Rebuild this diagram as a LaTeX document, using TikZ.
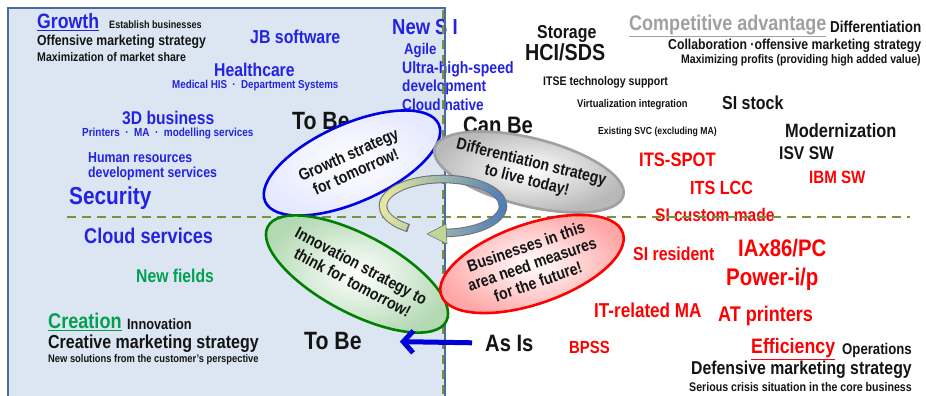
\documentclass[tikz,border=0pt]{standalone}
\usepackage{fontspec}
\setmainfont{Liberation Sans}[FakeStretch=0.85]
\usetikzlibrary{shapes.geometric,arrows.meta}
\definecolor{cblue}{RGB}{35,35,225}
\definecolor{cred}{RGB}{255,0,0}
\definecolor{cgreen}{RGB}{0,160,80}
\definecolor{cgray}{RGB}{160,160,160}
\definecolor{panel}{RGB}{220,230,242}
\definecolor{panelborder}{RGB}{74,108,155}
\definecolor{dashgreen}{RGB}{119,147,60}
\definecolor{arryellow}{RGB}{228,232,160}
\definecolor{arrblue}{RGB}{79,127,184}
\definecolor{arrgreen}{RGB}{190,214,150}
\definecolor{txtblack}{RGB}{20,20,20}
\newcommand\myfs[1]{\fontsize{#1}{#1}\selectfont}
\begin{document}
\begin{tikzpicture}[x=1pt,y=-1pt,
  txt/.style={anchor=west,inner sep=0pt,text=txtblack,font=\bfseries\myfs{#1}},
  ell/.style={ellipse,line width=2.6pt,align=center,inner sep=-8pt,
    font=\bfseries\fontsize{16.5}{18.5}\selectfont,text=txtblack},
  dashline/.style={draw=dashgreen,line width=2.4pt,dash pattern=on 9pt off 6pt}]
\useasboundingbox (0,0) rectangle (926,396);
\clip (0,0) rectangle (926,396);
% panel
\fill[white] (0,0) rectangle (926,396);
\draw[fill=panel,draw=panelborder,line width=1.6pt] (8,8) rectangle (445,420);

% ---- left texts
\node[txt=20.8,text=cblue] (growth) at (37,22) {\underline{Growth}};
\node[txt=10.7] (estab) at (109,25) {Establish businesses};
\node[txt=14.4] (offm) at (37,42) {Offensive marketing strategy};
\node[txt=12.5] (maxm) at (37,57) {Maximization of market share};
\node[txt=18.7,text=cblue] (jb) at (250,37) {JB software};
\node[txt=18.5,text=cblue] (health) at (214,70) {Healthcare};
\node[txt=11.5,text=cblue] (medical) at (172,86) {Medical HIS \ · \ Department Systems};
\node[txt=18.4,text=cblue] (threed) at (122,118) {3D business};
\node[txt=11.7,text=cblue] (printers) at (82,134) {Printers \ · \ MA \ · \ modelling services};
\node[txt=14.5,text=cblue] (hr1) at (88,158) {Human resources};
\node[txt=14.5,text=cblue] (hr2) at (88,174) {development services};
\node[txt=24.5,text=cblue] (security) at (69,198) {Security};
\node[txt=21.3,text=cblue] (cloud) at (84,236) {Cloud services};
\node[txt=18.5,text=cgreen] (newf) at (136,276) {New fields};
\node[txt=21.3,text=cgreen] (creation) at (48,322) {\underline{Creation}};
\node[txt=15] (innov) at (127,324) {Innovation};
\node[txt=18.8] (creative) at (48,344) {Creative marketing strategy};
\node[txt=11] (newsol) at (48,360) {New solutions from the customer's perspective};
\node[txt=25] (tobe1) at (292,121) {To Be};
\node[txt=25] (tobe2) at (304,341) {To Be};
\node[txt=21.7,text=cblue] (newsi) at (392,27) {New S I};
\node[txt=15.5,text=cblue] (agile) at (404,51) {Agile};
\node[txt=16.5,text=cblue] (ultra) at (402,69) {Ultra-high-speed};
\node[txt=16,text=cblue] (devel) at (402,87) {development};
\node[txt=16,text=cblue] (cnative) at (402,105) {Cloud native};

% ---- right texts
\node[txt=18.7] (storage) at (537,34) {Storage};
\node[txt=23.2] (hci) at (525,52) {HCI/SDS};
\node[txt=21.2,text=cgray] (compadv) at (629,26) {\underline{Competitive advantage}};
\node[txt=15.8] (diff) at (830,27) {Differentiation};
\node[txt=14.4] (collab) at (668,46) {Collaboration ·offensive marketing strategy};
\node[txt=12.4] (maxp) at (681,60) {Maximizing profits (providing high added value)};
\node[txt=12.4] (itse) at (543,82) {ITSE technology support};
\node[txt=11.1] (virt) at (577,105) {Virtualization integration};
\node[txt=18.8] (sistock) at (722,103) {SI stock};
\node[txt=10.2] (exist) at (598,132) {Existing SVC (excluding MA)};
\node[txt=19.3] (modern) at (785,131) {Modernization};
\node[txt=19.5,text=cred] (itsspot) at (639,160) {ITS-SPOT};
\node[txt=18.4] (isv) at (779,153) {ISV SW};
\node[txt=17.8,text=cred] (ibm) at (809,177) {IBM SW};
\node[txt=19,text=cred] (itslcc) at (690,188) {ITS LCC};
\node[txt=18.3,text=cred] (sicustom) at (655,215) {SI custom made};
\node[txt=18.7,text=cred] (sires) at (633,254) {SI resident};
\node[txt=23.9,text=cred] (iax) at (738,248) {IAx86/PC};
\node[txt=24.1,text=cred] (power) at (726,279) {Power-i/p};
\node[txt=20.1,text=cred] (itma) at (594,310) {IT-related MA};
\node[txt=21.2,text=cred] (atp) at (718,316) {AT printers};
\node[txt=17.5,text=cred] (bpss) at (569,347) {BPSS};
\node[txt=20.9,text=cred] (effic) at (751,349) {\underline{Efficiency}};
\node[txt=15.5] (oper) at (842,350) {Operations};
\node[txt=18.6] (defm) at (691,370) {Defensive marketing strategy};
\node[txt=12.5] (serious) at (689,387) {Serious crisis situation in the core business};
\node[txt=23.8] (canbe) at (463,125) {Can Be};
\node[txt=23.7] (asis) at (485,343) {As Is};

% ---- guide lines
\draw[dashline] (67,217) -- (910,217);
\draw[dashline] (443,10) -- (443,396);
\draw[draw=panelborder,line width=1.4pt] (445,8) -- (445,396);

% ---- ellipses
\node[ell,draw=blue!90!black,inner color=white,outer color=cyan!12!blue!10,
  minimum width=190pt,minimum height=78pt,rotate=24] (gro) at (352,163)
  {Growth strategy\\for tomorrow!};
\node[ell,draw=cgray,inner color=white,outer color=black!28,
  minimum width=176pt,minimum height=68pt,rotate=-14] (dif) at (529,172)
  {Differentiation strategy\\to live today!};
\node[ell,draw=green!50!black,inner color=white,outer color=green!50!black!30,
  minimum width=202pt,minimum height=78pt,rotate=-28] (inn) at (357,274)
  {Innovation strategy to\\think for tomorrow!};
\node[ell,draw=cred,inner color=white,outer color=red!35,
  minimum width=192pt,minimum height=80pt,rotate=19] (bus) at (532,264)
  {Businesses in this\\area need measures\\for the future!};

% ---- circular arrow
\begin{scope}[shift={(443,206)}]
  \draw[line width=8.6pt,draw=black!55] (125:60 and 27)
    arc[start angle=125,end angle=448,x radius=60,y radius=27];
  \foreach \a in {127,131,...,443} {
    \pgfmathsetmacro\p{50+50*cos(\a)}
    \draw[line width=6.4pt,draw=arrblue!\p!arryellow] (\a:60 and 27)
      arc[start angle=\a,end angle=\a+5,x radius=60,y radius=27];
  }
  \filldraw[fill=arrgreen,draw=black!55,line width=0.6pt,line join=round]
    (-16,28) -- (3,18) -- (4,38) -- cycle;
\end{scope}

% ---- As Is -> To Be
\draw[draw=blue!85!black,line width=5pt,
  -{Straight Barb[length=10pt,width=22pt,line width=5pt]},
  shorten <=13pt,shorten >=38pt] (asis.west) -- (tobe2.east);
\end{tikzpicture}
\end{document}
